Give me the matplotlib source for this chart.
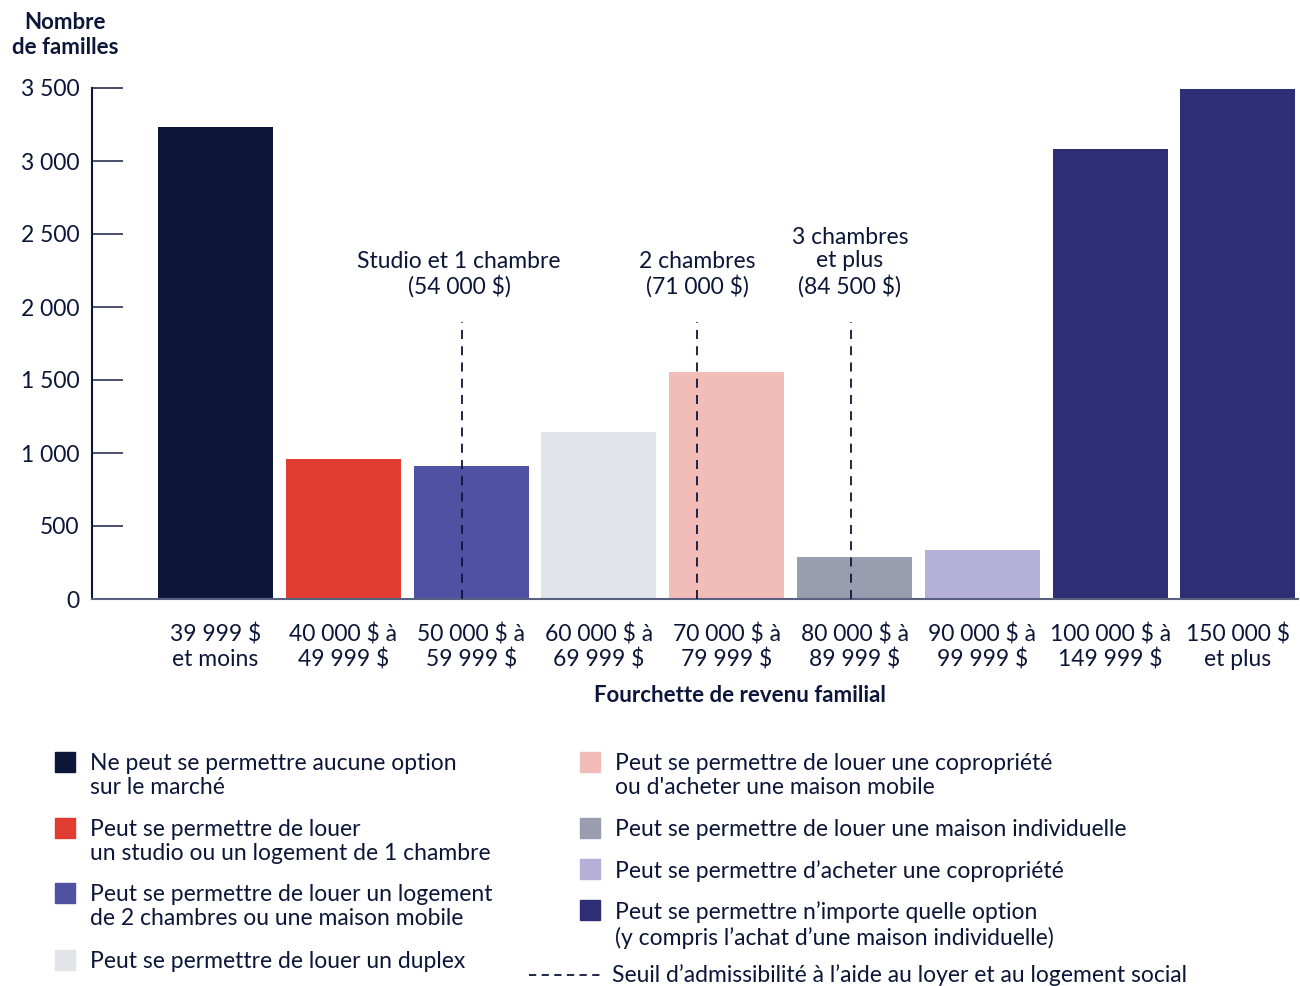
import matplotlib
matplotlib.use('Agg')
import matplotlib.pyplot as plt
from matplotlib.patches import Rectangle
from matplotlib.lines import Line2D

# data
categories = ['39 999 $\net moins', '40 000 $ à\n49 999 $', '50 000 $ à\n59 999 $',
              '60 000 $ à\n69 999 $', '70 000 $ à\n79 999 $', '80 000 $ à\n89 999 $',
              '90 000 $ à\n99 999 $', '100 000 $ à\n149 999 $', '150 000 $\net plus']
families = [3230, 960, 910, 1145, 1555, 290, 335, 3080, 3490]
colors = ['#0c1638', '#e03c31', '#4f52a3', '#e1e4e8', '#f2bdb8',
          '#9a9db0', '#b5b0d8', '#2e2e74', '#2e2e74']

# thresholds (position on the category axis) and their labels
threshold_pos = [1.93, 3.77, 4.97]
threshold_top = 1900
threshold_labels = ['Studio et 1 chambre\n(54 000 $)', '2 chambres\n(71 000 $)',
                    '3 chambres\net plus\n(84 500 $)']

yticks = [0, 500, 1000, 1500, 2000, 2500, 3000, 3500]
ytick_labels = ['0', '500', '1 000', '1 500', '2 000', '2 500', '3 000', '3 500']

legend_left = [('#0c1638', 'Ne peut se permettre aucune option\nsur le marché'),
               ('#e03c31', 'Peut se permettre de louer\nun studio ou un logement de 1 chambre'),
               ('#4f52a3', 'Peut se permettre de louer un logement\nde 2 chambres ou une maison mobile'),
               ('#e1e4e8', 'Peut se permettre de louer un duplex')]
legend_right = [('#f2bdb8', 'Peut se permettre de louer une copropriété\nou d\'acheter une maison mobile'),
                ('#9a9db0', 'Peut se permettre de louer une maison individuelle'),
                ('#b5b0d8', 'Peut se permettre d\u2019acheter une copropriété'),
                ('#2e2e74', 'Peut se permettre n\u2019importe quelle option\n(y compris l\u2019achat d\u2019une maison individuelle)')]
dash_label = 'Seuil d\u2019admissibilité à l\u2019aide au loyer et au logement social'

plt.rcParams['font.family'] = ['Lato', 'DejaVu Sans']
txt = '#0c1638'
W, H = 1300, 986
fs = 16.5

fig = plt.figure(figsize=(13, 9.86), dpi=100)
ax = fig.add_axes([92 / W, (H - 599) / H, 1206 / W, 511 / H])
ax.patch.set_alpha(0)

x = list(range(len(categories)))
ax.bar(x, families, width=0.9, color=colors, zorder=2)
for p in threshold_pos:
    ax.plot([p, p], [0, threshold_top], ls=(0, (5, 4)), color=txt, lw=1.3, zorder=3)

ax.set_xlim(-0.967, 8.47)
ax.set_ylim(0, 3500)
ax.set_yticks(yticks)
ax.set_yticklabels(ytick_labels, fontsize=fs, color=txt)
ax.tick_params(axis='y', direction='in', length=22, width=1.3, color='#3a4060', pad=9)
ax.set_xticks(x)
ax.set_xticklabels(categories, fontsize=fs, color=txt, linespacing=1.15)
ax.tick_params(axis='x', length=0, pad=18)
for s in ['top', 'right']:
    ax.spines[s].set_visible(False)
ax.spines['left'].set_color(txt)
ax.spines['left'].set_linewidth(1.5)
ax.spines['bottom'].set_color('#5a6080')
ax.spines['bottom'].set_linewidth(1.5)

# overlay axes in pixel coordinates for free text and the legend
lg = fig.add_axes([0, 0, 1, 1], zorder=-1)
lg.set_xlim(0, W)
lg.set_ylim(H, 0)
lg.axis('off')

lg.text(65, 35, 'Nombre\nde familles', ha='center', va='center', fontsize=16,
        fontweight='bold', color=txt, linespacing=1.2)
lg.text(740, 695, 'Fourchette de revenu familial', ha='center', va='center',
        fontsize=16, fontweight='bold', color=txt)

lab_xy = [(459, 274), (697, 274), (850, 262)]
for (lx, ly), t in zip(lab_xy, threshold_labels):
    lg.text(lx, ly, t, ha='center', va='center', fontsize=fs, color=txt, linespacing=1.15)

rows_left = [762, 828, 893, 960]
for (c, t), y in zip(legend_left, rows_left):
    lg.add_patch(Rectangle((55, y - 10), 20, 20, color=c))
    lg.text(90, y - 9, t, ha='left', va='top', fontsize=fs, color=txt, linespacing=1.2)

rows_right = [762, 828, 869, 910]
for (c, t), y in zip(legend_right, rows_right):
    lg.add_patch(Rectangle((580, y - 10), 20, 20, color=c))
    lg.text(615, y - 9, t, ha='left', va='top', fontsize=fs, color=txt, linespacing=1.2)

lg.add_line(Line2D([529, 600], [975, 975], ls=(0, (4, 3)), color=txt, lw=1.3))
lg.text(612, 975, dash_label, ha='left', va='center', fontsize=fs, color=txt)

fig.savefig('out.png', dpi=100)
